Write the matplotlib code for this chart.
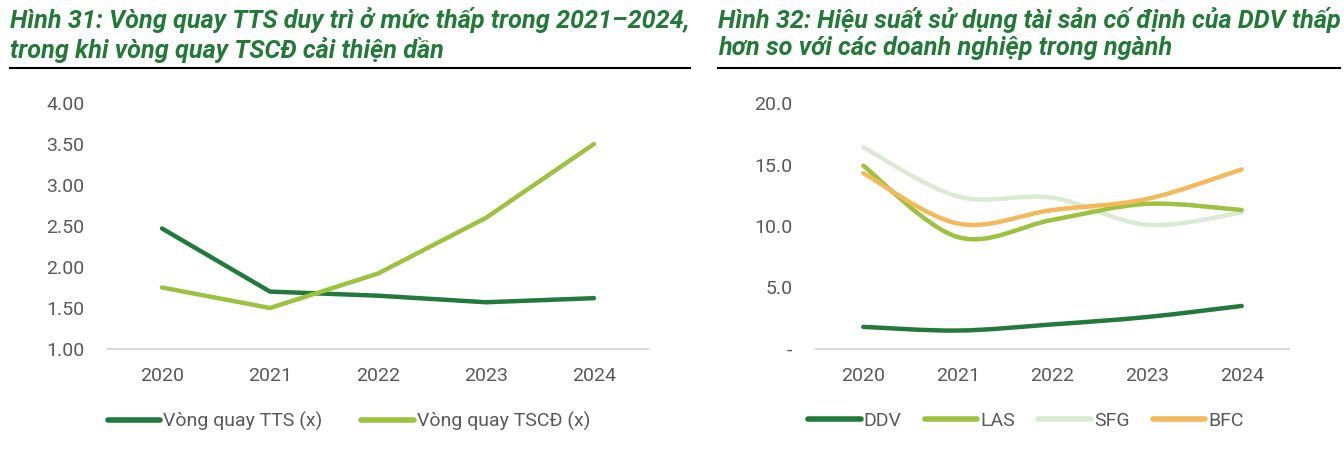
import matplotlib
matplotlib.use("Agg")
import matplotlib.pyplot as plt
from matplotlib.path import Path
from matplotlib.patches import PathPatch
from matplotlib.lines import Line2D
from matplotlib.ticker import FuncFormatter

# data
years = ['2020', '2021', '2022', '2023', '2024']
tts = [2.47, 1.70, 1.65, 1.57, 1.62]
tscd = [1.75, 1.50, 1.92, 2.60, 3.50]

ddv = [1.8, 1.5, 2.0, 2.6, 3.5]
las = [14.9, 9.1, 10.5, 11.8, 11.3]
sfg = [16.4, 12.4, 12.3, 10.1, 11.1]
bfc = [14.3, 10.2, 11.3, 12.2, 14.6]

title_left = "Hình 31: Vòng quay TTS duy trì ở mức thấp trong 2021–2024,\ntrong khi vòng quay TSCĐ cải thiện dần"
title_right = "Hình 32: Hiệu suất sử dụng tài sản cố định của DDV thấp\nhơn so với các doanh nghiệp trong ngành"

DARK = '#217a3c'
LIGHT = '#9cc23e'
PALE = '#dbead2'
ORANGE = '#f3b95b'
TITLE = '#237a38'
GREY = '#595959'

plt.rcParams['font.family'] = ['Roboto', 'DejaVu Sans']


def smooth_path(xs, ys):
    # excel-like smoothed line: cubic bezier through each point
    pts = list(zip(xs, ys))
    n = len(pts)
    verts = [pts[0]]
    codes = [Path.MOVETO]
    for i in range(n - 1):
        p0 = pts[max(i - 1, 0)]
        p1 = pts[i]
        p2 = pts[i + 1]
        p3 = pts[min(i + 2, n - 1)]
        c1 = (p1[0] + (p2[0] - p0[0]) / 6, p1[1] + (p2[1] - p0[1]) / 6)
        c2 = (p2[0] - (p3[0] - p1[0]) / 6, p2[1] - (p3[1] - p1[1]) / 6)
        verts += [c1, c2, p2]
        codes += [Path.CURVE4] * 3
    return Path(verts, codes)


def style_axis(ax):
    for s in ['top', 'right', 'left']:
        ax.spines[s].set_visible(False)
    ax.spines['bottom'].set_color('#d9d9d9')
    ax.spines['bottom'].set_linewidth(1.5)
    ax.tick_params(axis='both', length=0, labelsize=14, colors=GREY)
    ax.tick_params(axis='y', pad=17)
    ax.tick_params(axis='x', pad=13)
    ax.set_xlim(-0.5, len(years) - 0.5)
    ax.set_xticks(range(len(years)))
    ax.set_xticklabels(years)


fig = plt.figure(figsize=(13.44, 4.53), dpi=100)

# left chart
ax1 = fig.add_axes([108 / 1344, 104 / 453, 540 / 1344, 246 / 453])
x = list(range(len(years)))
ax1.plot(x, tts, color=DARK, lw=3.2, solid_capstyle='round', solid_joinstyle='round')
ax1.plot(x, tscd, color=LIGHT, lw=3.2, solid_capstyle='round', solid_joinstyle='round')
ax1.set_ylim(1.0, 4.0)
ax1.set_yticks([1.0, 1.5, 2.0, 2.5, 3.0, 3.5, 4.0])
ax1.yaxis.set_major_formatter(FuncFormatter(lambda v, p: f"{v:.2f}"))
style_axis(ax1)
h1 = [Line2D([], [], color=DARK, lw=4, solid_capstyle='round'),
      Line2D([], [], color=LIGHT, lw=4, solid_capstyle='round')]
fig.legend(h1, ['Vòng quay TTS (x)', 'Vòng quay TSCĐ (x)'], loc='center',
           bbox_to_anchor=(349 / 1344, 32 / 453), ncol=2, frameon=False,
           fontsize=14, handlelength=2.7, handletextpad=0.15, columnspacing=2.0,
           labelcolor=GREY)

# right chart
ax2 = fig.add_axes([816 / 1344, 104 / 453, 473 / 1344, 246 / 453])
for vals, col in [(sfg, PALE), (las, LIGHT), (bfc, ORANGE), (ddv, DARK)]:
    ax2.add_patch(PathPatch(smooth_path(x, vals), fill=False, edgecolor=col,
                            lw=3.2, capstyle='round', joinstyle='round'))
ax2.set_ylim(0, 20)
ax2.set_yticks([0, 5, 10, 15, 20])
ax2.yaxis.set_major_formatter(FuncFormatter(lambda v, p: '-' if v == 0 else f"{v:.1f}"))
style_axis(ax2)
h2 = [Line2D([], [], color=c, lw=4, solid_capstyle='round') for c in [DARK, LIGHT, PALE, ORANGE]]
fig.legend(h2, ['DDV', 'LAS', 'SFG', 'BFC'], loc='center',
           bbox_to_anchor=(1026 / 1344, 32 / 453), ncol=4, frameon=False,
           fontsize=14, handlelength=2.7, handletextpad=0.15, columnspacing=1.2,
           labelcolor=GREY)

# titles and rules
fig.text(10 / 1344, 1 - 7 / 453, title_left, ha='left', va='top', fontsize=18.2,
         fontweight='bold', fontstyle='italic', color=TITLE, linespacing=1.18)
fig.text(718 / 1344, 1 - 7 / 453, title_right, ha='left', va='top', fontsize=18.2,
         fontweight='bold', fontstyle='italic', color=TITLE, linespacing=1.18)
fig.add_artist(Line2D([10 / 1344, 690 / 1344], [1 - 68 / 453] * 2, color='black', lw=1.5))
fig.add_artist(Line2D([718 / 1344, 1340 / 1344], [1 - 68 / 453] * 2, color='black', lw=1.5))

fig.savefig('out.png', dpi=100)
